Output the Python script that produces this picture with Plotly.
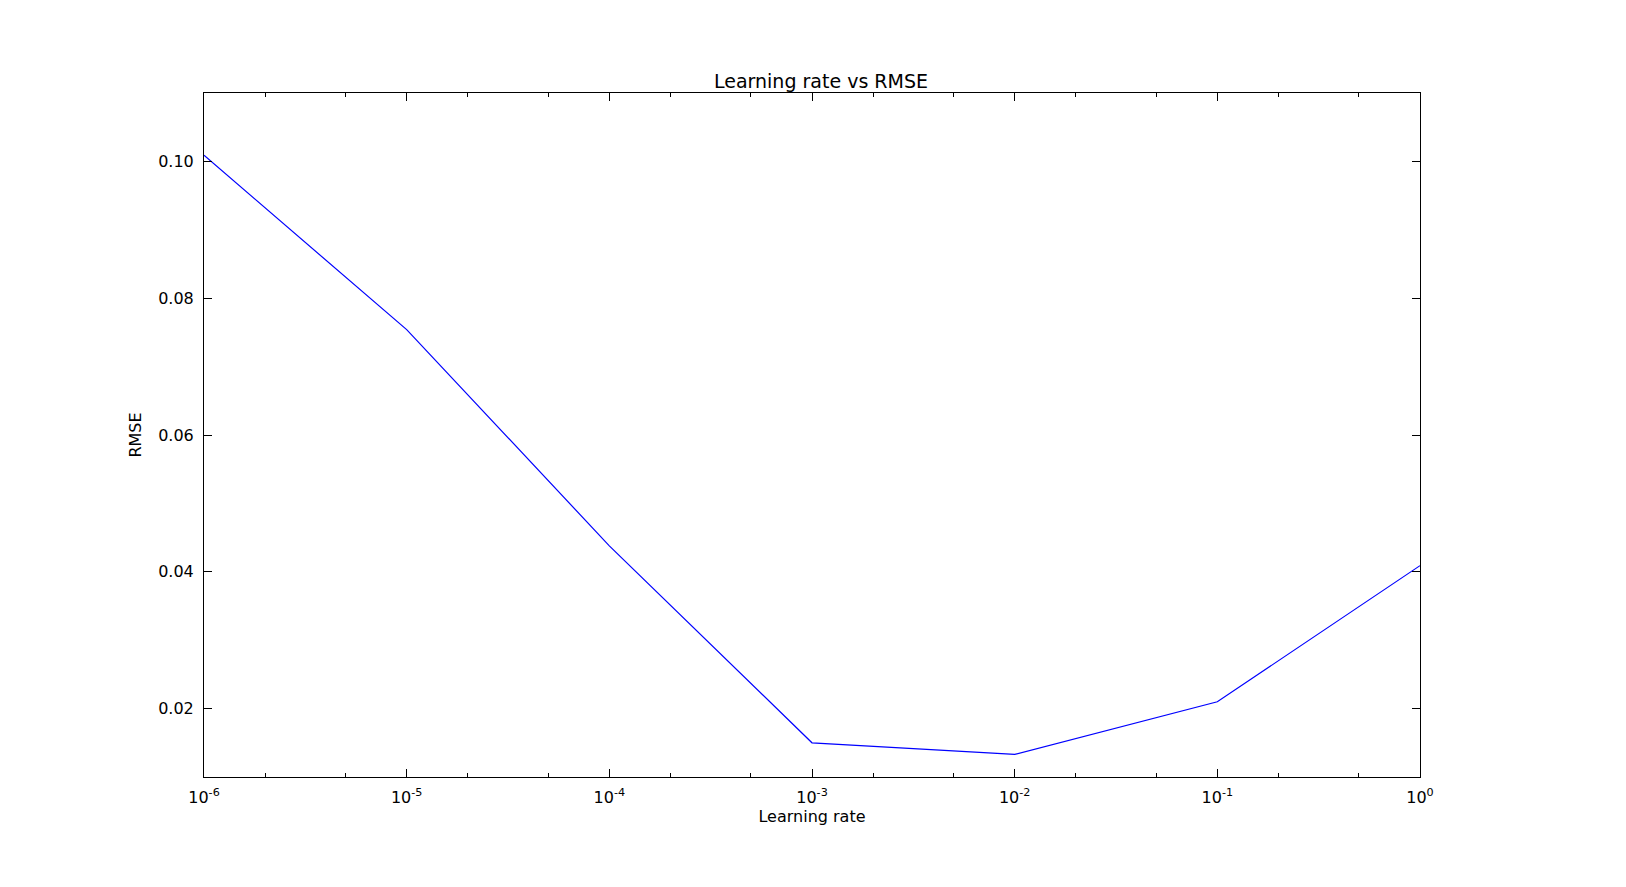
import plotly.graph_objects as go

learning_rates = [1e-6, 1e-5, 1e-4, 1e-3, 1e-2, 1e-1, 1e0]
rmse = [0.1009, 0.0754, 0.0438, 0.0150, 0.0133, 0.0210, 0.0409]
x_tickvals = [1e-6, 1e-5, 1e-4, 1e-3, 1e-2, 1e-1, 1e0]
x_ticktext = ["10<sup>-6</sup>", "10<sup>-5</sup>", "10<sup>-4</sup>", "10<sup>-3</sup>",
              "10<sup>-2</sup>", "10<sup>-1</sup>", "10<sup>0</sup>"]
y_tickvals = [0.02, 0.04, 0.06, 0.08, 0.10]

fig = go.Figure()
fig.add_trace(go.Scatter(x=learning_rates, y=rmse, mode="lines",
                         line=dict(color="#0000ff", width=1.2), showlegend=False))

axis_common = dict(showgrid=False, zeroline=False, showline=True, linecolor="black",
                   linewidth=1, mirror="allticks", ticks="inside", ticklen=8,
                   tickcolor="black", tickfont=dict(size=16, color="black"),
                   ticklabelstandoff=6)

fig.update_xaxes(type="log", range=[-6, 0], tickvals=x_tickvals, ticktext=x_ticktext,
                 title=dict(text="Learning rate", font=dict(size=16), standoff=4),
                 minor=dict(ticks="inside", ticklen=4, tickcolor="black"),
                 **axis_common)
fig.update_yaxes(range=[0.01, 0.11], tickvals=y_tickvals, tickformat=".2f",
                 title=dict(text="RMSE", font=dict(size=16), standoff=12),
                 **axis_common)

fig.update_layout(
    width=1626, height=887,
    margin=dict(l=196, r=214, t=85, b=118),
    paper_bgcolor="white", plot_bgcolor="white",
    font=dict(family="DejaVu Sans", color="black", size=16),
    title=dict(text="Learning rate vs RMSE", x=0.5, xanchor="center",
               y=1 - 73 / 887, yanchor="middle", font=dict(size=19)),
)

fig.write_html("out.html")
